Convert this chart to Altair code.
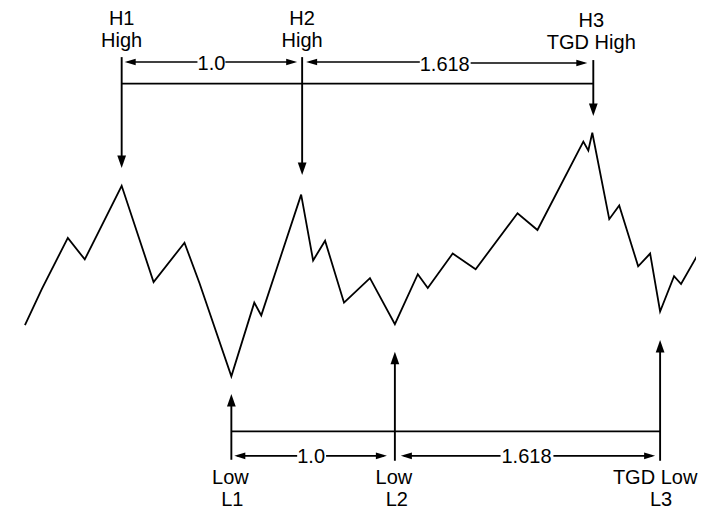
import altair as alt
import pandas as pd

# Price path (time position, level measured from the top of the page)
time_pos = [25, 42, 68, 85, 122, 154, 185, 200, 232, 255, 262, 302, 314, 326, 345,
            371, 396, 419, 429, 454, 477, 519, 539, 585, 590, 594, 611, 621, 640,
            652, 662, 676, 683, 706]
depth = [330, 293, 241, 263, 188, 286, 246, 287, 382, 307, 320, 197, 264, 244, 307,
         282, 329, 278, 292, 257, 273, 216, 233, 143, 152, 134, 222, 208, 270,
         257, 316, 280, 288, 247]

# Annotation guide segments
seg_x1 = [122, 303, 595, 122, 128, 226, 310, 472, 232, 396, 662, 232, 238, 327, 405, 555]
seg_y1 = [57, 57, 60, 84, 62, 62, 62, 63, 406, 363, 351, 438, 463, 463, 463, 463]
seg_x2 = [122, 303, 595, 595, 198, 295, 421, 586, 232, 396, 662, 662, 298, 385, 502, 654]
seg_y2 = [164, 171, 111, 84, 62, 62, 62, 63, 467, 468, 468, 438, 463, 463, 463, 463]
seg_w = [1.9, 1.9, 1.9, 1.7, 1.6, 1.6, 1.6, 1.6, 1.9, 1.9, 1.9, 1.7, 1.6, 1.6, 1.6, 1.6]

# Arrow heads: tip position and direction
arrow_x = [122, 303, 595, 125, 298, 307, 589, 232, 396, 662, 235, 388, 402, 657]
arrow_y = [170, 177, 117, 62, 62, 62, 63, 400, 357, 345, 463, 463, 463, 463]
arrow_dir = ["down", "down", "down", "left", "right", "left", "right",
             "up", "up", "up", "left", "right", "left", "right"]

# Labels
label_text = ["H1", "High", "H2", "High", "H3", "TGD High", "1.0", "1.618",
              "Low", "L1", "Low", "L2", "TGD Low", "L3", "1.0", "1.618"]
label_x = [122, 122, 303, 303, 593, 593, 212, 446,
           231, 233, 395, 398, 657, 663, 312, 528]
label_y = [18, 41, 18, 41, 20, 43, 64, 65,
           486, 508, 486, 508, 486, 508, 464, 464]

TOP = 518

paths = {
    "down": ("M0,0L-0.35,-1L0.35,-1Z", 625),
    "up": ("M0,0L-0.35,1L0.35,1Z", 625),
    "left": ("M0,0L1,-0.3L1,0.3Z", 484),
    "right": ("M0,0L-1,-0.3L-1,0.3Z", 484),
}

price = pd.DataFrame({"t": time_pos, "p": [TOP - d for d in depth]})
segs = pd.DataFrame({
    "x1": seg_x1, "y1": [TOP - v for v in seg_y1],
    "x2": seg_x2, "y2": [TOP - v for v in seg_y2], "w": seg_w,
})
arrows = pd.DataFrame({
    "x": arrow_x, "y": [TOP - v for v in arrow_y],
    "shape": [paths[d][0] for d in arrow_dir],
    "size": [paths[d][1] for d in arrow_dir],
})
labels = pd.DataFrame({"text": label_text, "x": label_x,
                       "y": [TOP - v for v in label_y]})

xs = alt.Scale(domain=[8, 698], nice=False, zero=False)
ys = alt.Scale(domain=[8, 510], nice=False, zero=False)
noax = None

line = alt.Chart(price).mark_line(color="black", strokeWidth=1.8, clip=True).encode(
    x=alt.X("t:Q", scale=xs, axis=noax),
    y=alt.Y("p:Q", scale=ys, axis=noax),
    order="t:Q",
)

rules = alt.Chart(segs).mark_rule(color="black").encode(
    x=alt.X("x1:Q", scale=xs, axis=noax),
    y=alt.Y("y1:Q", scale=ys, axis=noax),
    x2="x2:Q",
    y2="y2:Q",
    strokeWidth=alt.StrokeWidth("w:Q", scale=None),
)

heads = alt.Chart(arrows).mark_point(filled=True, color="black", opacity=1,
                                     strokeWidth=0).encode(
    x=alt.X("x:Q", scale=xs, axis=noax),
    y=alt.Y("y:Q", scale=ys, axis=noax),
    shape=alt.Shape("shape:N", scale=None),
    size=alt.Size("size:Q", scale=None),
)

texts = alt.Chart(labels).mark_text(font="Liberation Sans", fontSize=20,
                                    color="black", align="center",
                                    baseline="middle").encode(
    x=alt.X("x:Q", scale=xs, axis=noax),
    y=alt.Y("y:Q", scale=ys, axis=noax),
    text="text:N",
)

chart = alt.layer(line, rules, heads, texts).properties(
    width=690, height=502, padding=0,
    autosize=alt.AutoSizeParams(type="fit", contains="padding"),
    view=alt.ViewBackground(stroke="white", strokeOpacity=0, strokeWidth=0),
).configure_view(stroke="white", strokeOpacity=0, strokeWidth=0).configure(background="white")

chart.save("out.html", embed_options={"renderer": "svg", "actions": False})
